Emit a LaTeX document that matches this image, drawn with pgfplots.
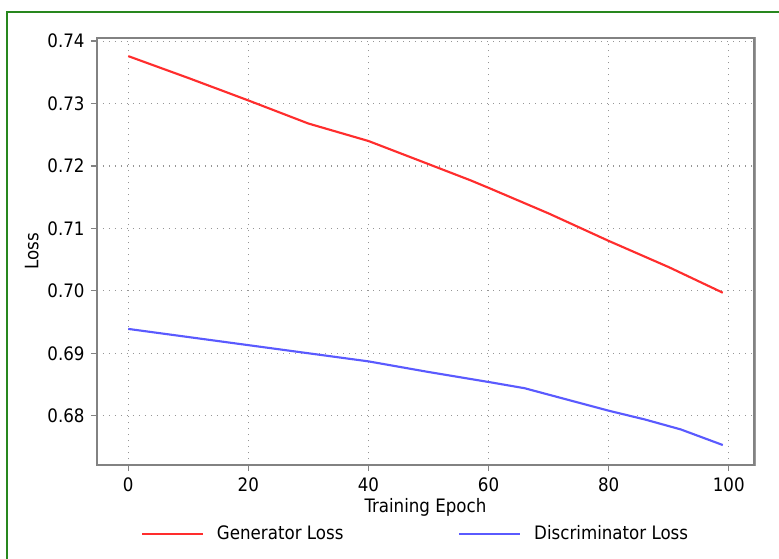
\documentclass[border=0pt]{standalone}
\usepackage{pgfplots}
\pgfplotsset{compat=1.18}
\usepackage{fontspec}
\setmainfont{DejaVu Sans Condensed}
\definecolor{frameGreen}{RGB}{40,135,30}
\definecolor{genRed}{RGB}{255,45,45}
\definecolor{discBlue}{RGB}{90,90,255}
\definecolor{axGray}{RGB}{130,130,130}
\definecolor{gridGray}{RGB}{150,150,150}
\begin{document}
\fontsize{13.9pt}{16pt}\selectfont
\begin{tikzpicture}
\useasboundingbox (0,0) rectangle (584.25pt,418.5pt);
\draw[frameGreen, line width=1.5pt] (4.875pt,-20pt) rectangle (610pt,409.35pt);
\begin{axis}[
  at={(72.75pt,69.75pt)}, anchor=south west,
  scale only axis, width=492.75pt, height=320.25pt,
  xmin=-5.2, xmax=104.2, ymin=0.6721, ymax=0.7405,
  xtick={0,20,40,60,80,100},
  ytick={0.68,0.69,0.70,0.71,0.72,0.73,0.74},
  /pgf/number format/assume math mode=true,
  yticklabel style={/pgf/number format/fixed, /pgf/number format/precision=2, /pgf/number format/fixed zerofill},
  scaled y ticks=false,
  tick align=outside, tick pos=left,
  major tick length=4.5pt,
  every tick/.style={axGray, line width=1pt},
  axis line style={axGray, line width=1.6pt},
  grid=major,
  major grid style={gridGray, line width=0.8pt, dash pattern=on 0.8pt off 3.7pt},
  xlabel={Training Epoch}, ylabel={Loss},
  xlabel style={at={(axis description cs:0.5,-0.100)}, anchor=center},
  ylabel style={at={(axis description cs:-0.0994,0.5)}, anchor=center, rotate=0},
  legend columns=2,
  legend style={at={(axis description cs:0.4835,-0.1623)}, anchor=center, draw=none, fill=none,
    inner sep=0pt, nodes={inner sep=0pt}, /tikz/every even column/.append style={column sep=86.25pt}},
  legend image code/.code={\draw[#1, line width=1.5pt] (0pt,0pt) -- (45.75pt,0pt); \path (55.25pt,0pt);},
  after end axis/.code={\draw[axGray!80, line width=0.9pt] ([xshift=1.2pt,yshift=-0.8pt]rel axis cs:1,0) -- ([xshift=1.2pt,yshift=0.8pt]rel axis cs:1,1);},
]
\addplot[genRed, line width=1.6pt] coordinates {
(0,0.7376) (10,0.7341) (20,0.7305) (30,0.7268) (40,0.7240) (50,0.7203) (57,0.7177) (60,0.7165) (70,0.7124) (80,0.7080) (90,0.7038) (99,0.6997)};
\addlegendentry{Generator Loss}
\addplot[discBlue, line width=1.6pt] coordinates {
(0,0.6939) (10,0.6926) (20,0.6913) (30,0.6900) (40,0.6887) (50,0.6870) (60,0.6854) (66,0.6844) (73,0.6826) (80,0.6808) (86,0.6794) (92,0.6778) (99,0.6753)};
\addlegendentry{Discriminator Loss}
\end{axis}
\end{tikzpicture}
\end{document}
